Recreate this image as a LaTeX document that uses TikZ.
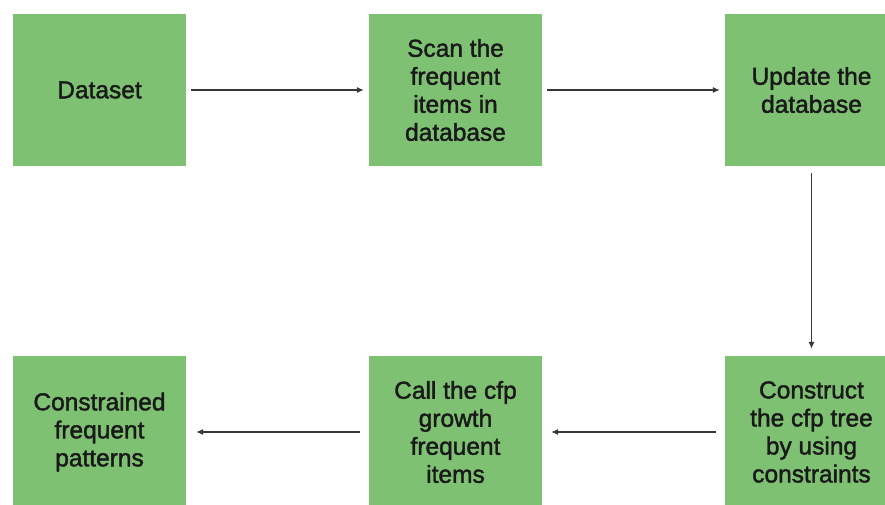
\documentclass[tikz,border=0pt]{standalone}
\usepackage{fontspec}
\newfontfamily\lblfont[FakeBold=1.6]{Liberation Sans}
\usetikzlibrary{arrows.meta}
\definecolor{stepgreen}{RGB}{126,193,114}
\definecolor{linkgrey}{RGB}{55,55,55}
\tikzset{
  stepbox/.style={fill=stepgreen, draw=none, minimum width=173bp, minimum height=152bp,
    inner sep=0pt, align=center, text=black!90,
    font=\lblfont\fontsize{24.5bp}{28bp}\selectfont},
  flow/.style={draw=linkgrey, line width=1.1bp, -{Latex[length=7bp,width=6bp]}}
}
\begin{document}
\begin{tikzpicture}[x=1bp,y=-1bp]
\useasboundingbox (0,0) rectangle (885,505);
\begin{scope}
\clip (0,0) rectangle (885,505);
% top row
\node[stepbox] (data) at (99.5,90) {Dataset};
\node[stepbox] (scan) at (455.5,90) {Scan the\\frequent\\items in\\database};
\node[stepbox] (upd) at (811.5,90) {Update the\\database};
% bottom row
\node[stepbox] (cons) at (811.5,432) {Construct\\the cfp tree\\by using\\constraints};
\node[stepbox] (call) at (455.5,432) {Call the cfp\\growth\\frequent\\items};
\node[stepbox] (res) at (99.5,432) {Constrained\\frequent\\patterns};
\end{scope}
% connectors
\draw[flow, shorten <=5bp, shorten >=5bp] (data) -- (scan);
\draw[flow, shorten <=5bp, shorten >=5bp] (scan) -- (upd);
\draw[flow, shorten <=7bp, shorten >=7bp] (upd) -- (cons);
\draw[flow, shorten <=9bp, shorten >=9bp] (cons) -- (call);
\draw[flow, shorten <=9bp, shorten >=10bp] (call) -- (res);
\end{tikzpicture}
\end{document}
